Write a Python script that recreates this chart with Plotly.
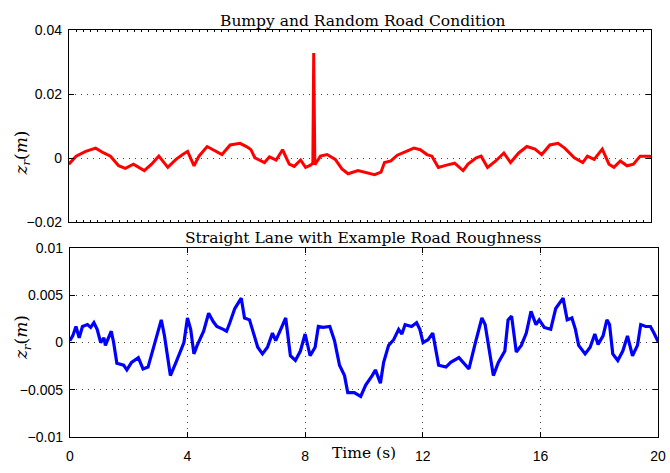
import plotly.graph_objects as go

# Road profile z_r(t) for the bumpy / random road (with a single bump near 8.4 s)
t_bumpy = [0, 0.25, 0.58, 0.92, 1.2, 1.43, 1.71, 1.94, 2.22, 2.59, 2.84, 3.09, 3.40, 3.68,
           3.91, 4.08, 4.30, 4.47, 4.75, 4.97, 5.26, 5.54, 5.88, 6.10, 6.25, 6.39, 6.72,
           6.89, 7.12, 7.34, 7.57, 7.74, 7.96, 8.13, 8.30, 8.38, 8.41, 8.45, 8.64, 8.87,
           9.15, 9.38, 9.59, 9.93, 10.27, 10.5, 10.72, 10.84, 11.06, 11.28, 11.51, 11.85,
           12.07, 12.30, 12.47, 12.69, 12.97, 13.25, 13.54, 13.71, 13.99, 14.16, 14.38,
           14.66, 14.94, 15.17, 15.45, 15.73, 16.01, 16.24, 16.52, 16.80, 17.03, 17.36,
           17.65, 17.81, 18.04, 18.32, 18.55, 18.72, 18.94, 19.17, 19.39, 19.62, 19.95, 20.0]
z_bumpy = [-0.0018, 0.0007, 0.0022, 0.0032, 0.0017, 0.0007, -0.0023, -0.0031, -0.0018,
           -0.0038, -0.0018, 0.0007, -0.0028, -0.0003, 0.0012, 0.0022, -0.0023, 0.0007,
           0.0037, 0.0027, 0.0012, 0.0042, 0.0047, 0.0037, 0.0028, 0.0002, -0.0013, 0.0005,
           -0.0005, 0.0027, -0.0018, -0.0025, -0.0005, -0.0028, -0.0021, -0.0015, 0.0329,
           -0.0020, 0.0007, 0.0012, -0.0003, -0.0033, -0.0048, -0.0038, -0.0045, -0.0051,
           -0.0043, -0.0013, -0.0008, 0.0010, 0.0019, 0.0032, 0.0027, 0.0012, 0.0007,
           -0.0028, -0.0021, -0.0015, -0.0038, -0.0018, 0.0002, 0.0007, -0.0028, -0.0008,
           0.0017, -0.0013, 0.0017, 0.0037, 0.0029, 0.0012, 0.0042, 0.0047, 0.0032, 0.0002,
           -0.0013, 0.0007, -0.0003, 0.0029, -0.0018, -0.0028, -0.0008, -0.0023, -0.0018,
           0.0007, 0.0007, 0.0005]

# Road profile z_r(t) for the straight lane with roughness
t_lane = [0, 0.10, 0.21, 0.32, 0.43, 0.60, 0.71, 0.82, 0.93, 1.05, 1.16, 1.21, 1.41, 1.49,
          1.60, 1.83, 1.94, 2.10, 2.33, 2.49, 2.66, 2.88, 3.11, 3.22, 3.42, 3.61, 3.88,
          4.00, 4.11, 4.22, 4.33, 4.55, 4.72, 4.88, 5.00, 5.22, 5.33, 5.44, 5.61, 5.83,
          5.94, 6.11, 6.28, 6.39, 6.55, 6.72, 6.89, 7.00, 7.17, 7.34, 7.50, 7.67, 7.84,
          8.00, 8.17, 8.34, 8.45, 8.61, 8.84, 9.00, 9.17, 9.34, 9.45, 9.67, 9.89, 10.06,
          10.28, 10.39, 10.56, 10.67, 10.84, 11.01, 11.18, 11.29, 11.40, 11.62, 11.79,
          11.90, 12.01, 12.18, 12.34, 12.54, 12.79, 12.95, 13.23, 13.40, 13.57, 13.79,
          14.01, 14.12, 14.40, 14.57, 14.79, 14.90, 15.02, 15.18, 15.35, 15.52, 15.68,
          15.85, 15.96, 16.13, 16.35, 16.52, 16.77, 16.91, 17.07, 17.19, 17.30, 17.52,
          17.69, 17.85, 17.96, 18.13, 18.26, 18.35, 18.46, 18.63, 18.80, 18.96, 19.13,
          19.30, 19.41, 19.58, 19.74, 19.86, 20.0]
z_lane = [0.0002, 0.0007, 0.0017, 0.0005, 0.0017, 0.0019, 0.0016, 0.0021, 0.0014, 0.0,
          0.0005, -0.0003, 0.0012, 0.0, -0.0022, -0.0024, -0.0029, -0.0021, -0.0016,
          -0.0028, -0.0026, 0.0, 0.0024, 0.0007, -0.0035, -0.0021, 0.0, 0.0026, 0.0014,
          -0.0012, -0.0003, 0.0012, 0.0031, 0.0022, 0.0017, 0.0014, 0.0012, 0.0021, 0.0036,
          0.0047, 0.0026, 0.0024, 0.0008, -0.0005, -0.0012, -0.0005, 0.0010, 0.0002,
          0.0014, 0.0026, -0.0014, -0.0019, -0.0009, 0.0009, -0.0014, -0.0005, 0.0017,
          0.0016, 0.0017, 0.0002, -0.0024, -0.0035, -0.0053, -0.0053, -0.0057, -0.0045,
          -0.0035, -0.0029, -0.0043, -0.0021, -0.0003, 0.0003, 0.0014, 0.0009, 0.0019,
          0.0017, 0.0021, 0.0014, 0.0, 0.0003, 0.0010, -0.0024, -0.0026, -0.0021, -0.0016,
          -0.0022, -0.0028, 0.0, 0.0026, 0.0019, -0.0035, -0.0021, -0.0009, 0.0024, 0.0028,
          -0.0010, -0.0003, 0.0010, 0.0033, 0.0019, 0.0024, 0.0016, 0.0014, 0.0036, 0.0047,
          0.0024, 0.0026, 0.0014, -0.0003, -0.0012, -0.0005, 0.0009, -0.0002, 0.0007,
          0.0024, 0.0019, -0.0012, -0.0019, -0.0009, 0.0007, -0.0014, -0.0003, 0.0019,
          0.0017, 0.0017, 0.0010, 0.0001]

x_ticks = [0, 4, 8, 12, 16, 20]
y1_ticks = [-0.02, 0, 0.02, 0.04]
y1_labels = ["\u22120.02", "0", "0.02", "0.04"]
y2_ticks = [-0.01, -0.005, 0, 0.005, 0.01]
y2_labels = ["\u22120.01", "\u22120.005", "0", "0.005", "0.01"]

W, H = 670, 473
SANS = "Liberation Sans, Arial, sans-serif"
SERIF = "DejaVu Serif, serif"

fig = go.Figure()
fig.add_trace(go.Scatter(x=t_bumpy, y=z_bumpy, mode="lines",
                         line=dict(color="#ff0000", width=3), xaxis="x", yaxis="y",
                         showlegend=False))
fig.add_trace(go.Scatter(x=t_lane, y=z_lane, mode="lines",
                         line=dict(color="#0000ff", width=3.2), xaxis="x2", yaxis="y2",
                         showlegend=False))

axis_common = dict(showline=True, linecolor="black", linewidth=1, mirror="ticks",
                   ticks="inside", tickcolor="black", zeroline=False,
                   ticklabeloverflow="allow",
                   tickfont=dict(family=SANS, size=14, color="black"))
grid = dict(showgrid=True, gridcolor="#444444", griddash="1px,5px", gridwidth=1)

fig.update_layout(
    width=W, height=H,
    margin=dict(l=0, r=0, t=0, b=0),
    paper_bgcolor="white", plot_bgcolor="white",
    xaxis=dict(domain=[66 / W, 659 / W], range=[0, 20], anchor="y",
               showticklabels=False, showgrid=False, dtick=0.25, ticklen=2,
               **axis_common),
    yaxis=dict(domain=[1 - 222 / H, 1 - 23 / H], range=[-0.02, 0.04], anchor="x",
               tickvals=y1_ticks, ticktext=y1_labels, ticklen=5, ticklabelstandoff=3,
               **grid, **axis_common),
    xaxis2=dict(domain=[67 / W, 666 / W], range=[0, 20], anchor="y2",
                tickvals=x_ticks, ticklen=5, ticklabelstandoff=6, **grid, **axis_common),
    yaxis2=dict(domain=[1 - 444 / H, 1 - 248.5 / H], range=[-0.01, 0.01], anchor="x2",
                tickvals=y2_ticks, ticktext=y2_labels, ticklen=5, ticklabelstandoff=3,
                **grid, **axis_common),
)

title_font = dict(family=SERIF, size=15.5, color="black")
label_font = dict(family=SERIF, size=17, color="black")
centered = dict(xref="paper", yref="paper", showarrow=False,
                xanchor="center", yanchor="middle")
fig.add_annotation(text="Bumpy and Random Road Condition", x=366 / W, y=1 - 13 / H,
                   font=title_font, **centered)
fig.add_annotation(text="Straight Lane with Example Road Roughness", x=366 / W,
                   y=1 - 238 / H, font=title_font, **centered)
fig.add_annotation(text="Time (s)", x=367 / W, y=1 - 461 / H,
                   font=dict(family=SERIF, size=15.5, color="black"), **centered)
for yc in (150, 341):
    fig.add_annotation(text="<i>z</i><sub><i>r</i></sub>(<i>m</i>)", x=19 / W,
                       y=1 - yc / H, textangle=-90, font=label_font, **centered)

fig.write_html("out.html")
